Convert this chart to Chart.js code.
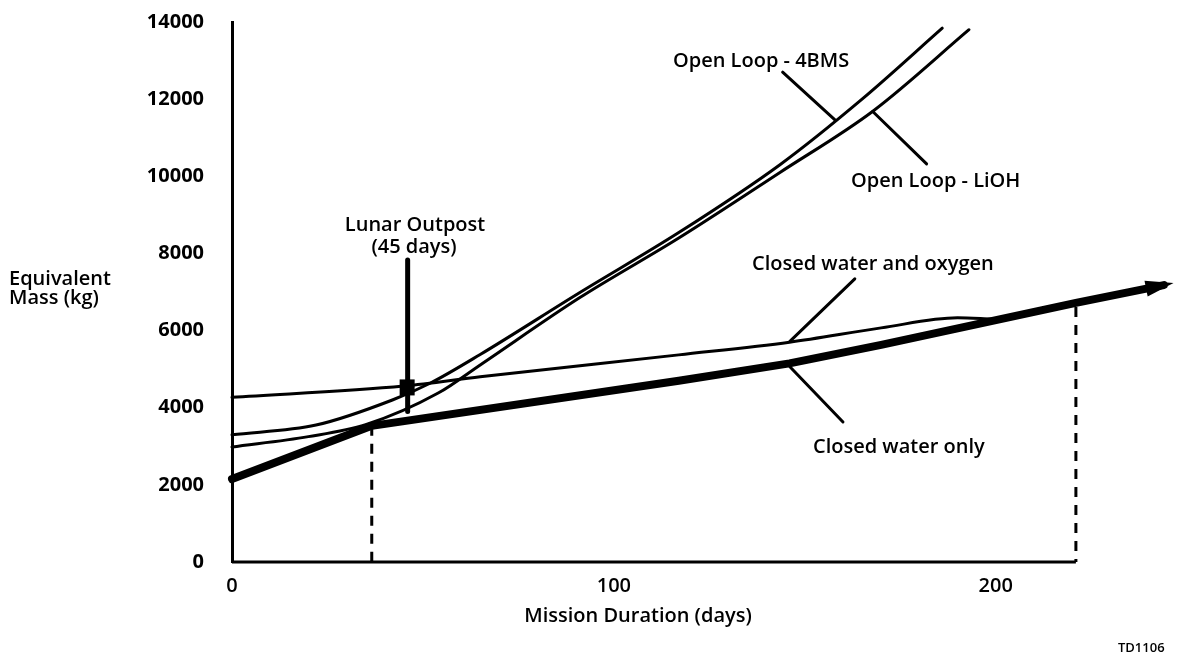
<!DOCTYPE html>
<html>
<head>
<meta charset="utf-8">
<script src="https://cdn.jsdelivr.net/npm/chart.js@4"></script>
<style>
  html, body { margin: 0; padding: 0; background: #fff; }
  #wrap { width: 1186px; height: 659px; }
</style>
</head>
<body>
<div id="wrap"><canvas id="chart" width="1186" height="659"></canvas></div>
<script>
// axis ticks
const yTicks = [0, 2000, 4000, 6000, 8000, 10000, 12000, 14000];
const xTicks = [0, 100, 200];

// equivalent mass (kg) vs mission duration (days)
const bmsDays = [0, 22, 42, 52, 65, 91, 117, 143.5, 165, 186];
const bmsMass = [3300, 3550, 4200, 4640, 5380, 6980, 8540, 10300, 12000, 13840];

const liohDays = [0, 20, 35, 54, 65, 91, 117, 143.5, 168, 193];
const liohMass = [2980, 3250, 3560, 4380, 5110, 6850, 8400, 10100, 11700, 13800];

const waterOxyDays = [0, 45, 65, 117, 146, 170, 190, 199];
const waterOxyMass = [4270, 4560, 4800, 5370, 5700, 6070, 6330, 6300];

const waterDays = [0, 36.6, 117, 146, 170, 221, 244];
const waterMass = [2150, 3530, 4700, 5150, 5630, 6720, 7180];

// lunar outpost pointer and the two dashed drop lines
const outpostDays = [46, 46];
const outpostMass = [3900, 7830];
const dropDays = [36.6, 221];
const dropTop = [3530, 6610];
const baseDays = [0, 221];

// leader lines: [day0, mass0, day1, mass1]
const leaderBms = [144.2, 12700, 157.9, 11460];
const leaderLioh = [167.8, 11680, 181.9, 10320];
const leaderWaterOxy = [163.1, 7340, 146.1, 5720];
const leaderWater = [146.1, 5060, 160, 3630];

const pts = (xs, ys) => xs.map((v, i) => ({ x: v, y: ys[i] }));

const line = (label, data, width, extra) => Object.assign({
    label,
    data,
    showLine: true,
    borderColor: '#000',
    backgroundColor: '#000',
    borderWidth: width,
    pointRadius: 0,
    fill: false,
    clip: false,
    borderCapStyle: 'round',
    borderJoinStyle: 'round'
}, extra || {});

const leader = (label, seg) => line(label, [{ x: seg[0], y: seg[1] }, { x: seg[2], y: seg[3] }], 3);

const datasets = [
    line('axis', pts(baseDays, [0, 0]), 3, { borderCapStyle: 'butt' }),
    line('drop1', [{ x: dropDays[0], y: dropTop[0] }, { x: dropDays[0], y: 0 }], 3, { borderDash: [10, 8], borderCapStyle: 'butt' }),
    line('drop2', [{ x: dropDays[1], y: dropTop[1] }, { x: dropDays[1], y: 0 }], 3, { borderDash: [10, 8], borderCapStyle: 'butt' }),
    line('Closed water only', pts(waterDays, waterMass), 8),
    line('Closed water and oxygen', pts(waterOxyDays, waterOxyMass), 3, { cubicInterpolationMode: 'monotone' }),
    line('Open Loop - 4BMS', pts(bmsDays, bmsMass), 3, { cubicInterpolationMode: 'monotone' }),
    line('Open Loop - LiOH', pts(liohDays, liohMass), 3, { cubicInterpolationMode: 'monotone' }),
    line('Lunar Outpost', pts(outpostDays, outpostMass), 5),
    leader('l1', leaderBms),
    leader('l2', leaderLioh),
    leader('l3', leaderWaterOxy),
    leader('l4', leaderWater)
];

const font = '"Open Sans", "DejaVu Sans", sans-serif';

const texts = [
    ['Open Loop - 4BMS', 673, 61, 'left'],
    ['Open Loop - LiOH', 851, 181, 'left'],
    ['Closed water and oxygen', 752, 264, 'left'],
    ['Closed water only', 813, 447, 'left'],
    ['Lunar Outpost', 415, 225, 'center'],
    ['(45 days)', 414, 247, 'center'],
    ['Equivalent', 9, 279, 'left'],
    ['Mass (kg)', 9, 298, 'left'],
    ['Mission Duration (days)', 638, 616, 'center']
];

const annotate = {
    id: 'annotate',
    afterDatasetsDraw(chart) {
        const { ctx, scales: { x, y } } = chart;
        ctx.save();

        // arrow head at the end of the closed water line
        const n = waterDays.length;
        const x1 = x.getPixelForValue(waterDays[n - 2]), y1 = y.getPixelForValue(waterMass[n - 2]);
        const x2 = x.getPixelForValue(waterDays[n - 1]), y2 = y.getPixelForValue(waterMass[n - 1]);
        const a = Math.atan2(y2 - y1, x2 - x1);
        const len = 28, half = 8;
        const tx = x2 + 10 * Math.cos(a), ty = y2 + 10 * Math.sin(a);
        const bx = tx - len * Math.cos(a), by = ty - len * Math.sin(a);
        ctx.fillStyle = '#000';
        ctx.beginPath();
        ctx.moveTo(tx, ty);
        ctx.lineTo(bx + half * Math.sin(a), by - half * Math.cos(a));
        ctx.lineTo(bx - half * Math.sin(a), by + half * Math.cos(a));
        ctx.closePath();
        ctx.fill();

        // blob where the outpost pointer meets the lines
        ctx.fillRect(x.getPixelForValue(outpostDays[0]) - 8, y.getPixelForValue(4500) - 9, 15, 16);

        ctx.textBaseline = 'middle';
        ctx.font = '600 20px ' + font;
        texts.forEach(t => {
            ctx.textAlign = t[3];
            ctx.fillText(t[0], t[1], t[2]);
        });
        ctx.font = '600 13px ' + font;
        ctx.textAlign = 'left';
        ctx.fillText('TD1106', 1118, 648);
        ctx.restore();
    }
};

new Chart(document.getElementById('chart'), {
    type: 'scatter',
    data: { datasets },
    options: {
        responsive: false,
        animation: false,
        layout: { padding: { top: 22, right: 7, bottom: 0, left: 0 } },
        plugins: { legend: { display: false }, tooltip: { enabled: false } },
        scales: {
            x: {
                type: 'linear',
                min: 0,
                max: 248,
                afterBuildTicks: s => { s.ticks = xTicks.map(v => ({ value: v })); },
                afterFit: s => { s.height = 97; s.paddingLeft = 0; s.paddingRight = 0; },
                grid: { display: false, drawTicks: false },
                border: { display: false },
                ticks: { color: '#000', padding: 12, maxRotation: 0, callback: v => String(v), font: { family: font, size: 20, weight: '600' } }
            },
            y: {
                min: 0,
                max: 14000,
                afterBuildTicks: s => { s.ticks = yTicks.map(v => ({ value: v })); },
                afterFit: s => { s.width = 232; s.paddingTop = 0; s.paddingBottom = 0; },
                grid: { display: false, drawTicks: false },
                border: { display: true, color: '#000', width: 3 },
                ticks: { color: '#000', padding: 28, callback: v => String(v), font: { family: font, size: 20, weight: 'bold' } }
            }
        }
    },
    plugins: [annotate]
});
</script>
</body>
</html>
